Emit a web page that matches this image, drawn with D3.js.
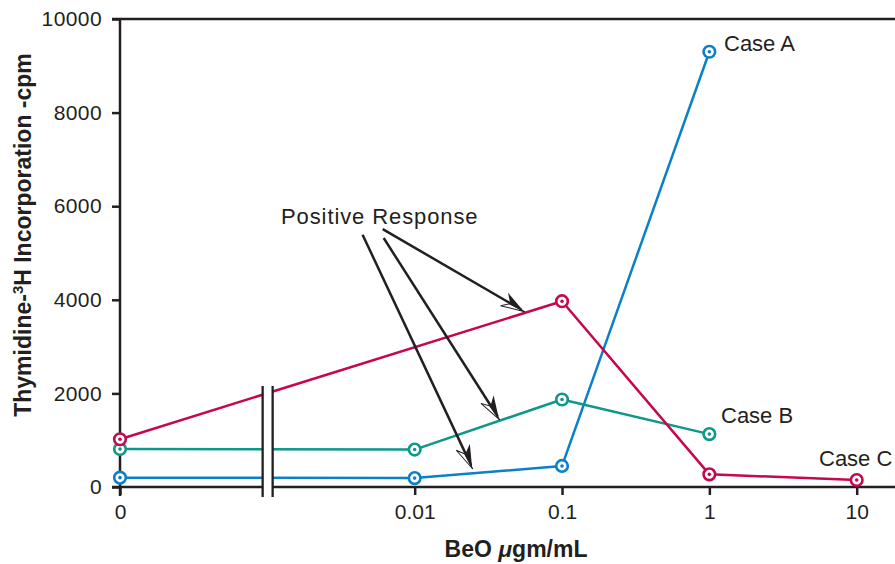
<!DOCTYPE html>
<html>
<head>
<meta charset="utf-8">
<script src="https://cdn.jsdelivr.net/npm/d3@7"></script>
<style>
  html, body { margin: 0; padding: 0; background: #fff; }
  svg { display: block; font-family: "Liberation Sans", Arial, Helvetica, sans-serif; }
</style>
</head>
<body>
<svg id="chart" width="895" height="564"></svg>
<script>
// ---- data ----
// dose positions (0 is drawn at the 1e-4 slot, to the left of the axis break)
const doseTicks = [0.0001, 0.01, 0.1, 1, 10];
const doseTickLabels = ["0", "0.01", "0.1", "1", "10"];
const yTicks = [0, 2000, 4000, 6000, 8000, 10000];

const caseADose = [0.0001, 0.01, 0.1, 1];
const caseAValues = [200, 190, 450, 9300];
const caseBDose = [0.0001, 0.01, 0.1, 1];
const caseBValues = [810, 800, 1870, 1130];
const caseCDose = [0.0001, 0.1, 1, 10];
const caseCValues = [1020, 3970, 270, 150];

const seriesNames = ["Case A", "Case B", "Case C"];
const seriesColors = ["#0a80c8", "#0f978a", "#c6064e"];

// annotation arrows (from -> to) in data units
const arrowFromDose = [0.00607, 0.00616, 0.00443];
const arrowFromValue = [5510, 5320, 5390];
const arrowToDose = [0.0559, 0.0378, 0.0248];
const arrowToValue = [3745, 1435, 385];

// ---- layout ----
const svg = d3.select("#chart");
const x = d3.scaleLog().domain([0.0001, 10]).range([120, 856.7]);
const y = d3.scaleLinear().domain([0, 10000]).range([487, 19]);
const ink = "#231f20";

const series = [
  { name: seriesNames[0], color: seriesColors[0], pts: caseADose.map((d, i) => [d, caseAValues[i]]) },
  { name: seriesNames[1], color: seriesColors[1], pts: caseBDose.map((d, i) => [d, caseBValues[i]]) },
  { name: seriesNames[2], color: seriesColors[2], pts: caseCDose.map((d, i) => [d, caseCValues[i]]) }
];

// top frame line
svg.append("line").attr("x1", 112).attr("x2", 895).attr("y1", y(10000)).attr("y2", y(10000))
  .attr("stroke", ink).attr("stroke-width", 2.5);

// y axis
const yAxis = d3.axisLeft(y).tickValues(yTicks).tickSize(8).tickPadding(10).tickFormat(d3.format("d"));
const gy = svg.append("g").attr("transform", "translate(120,0)").call(yAxis);
gy.select(".domain").attr("stroke", ink).attr("stroke-width", 2.5).attr("d", `M0,${y(10000)}V${y(0) + 9}`);
gy.selectAll(".tick line").attr("stroke", ink).attr("stroke-width", 2.5);
gy.selectAll(".tick text").attr("fill", ink).style("font-size", "21px")
  .style("font-family", "Liberation Sans, Arial, sans-serif").style("letter-spacing", "0.4px");

// x axis
const xAxis = d3.axisBottom(x).tickValues(doseTicks).tickSize(8).tickPadding(9)
  .tickFormat((d, i) => doseTickLabels[i]);
const gx = svg.append("g").attr("transform", `translate(0,${y(0)})`).call(xAxis);
gx.select(".domain").attr("stroke", ink).attr("stroke-width", 2.5).attr("d", `M112,0H895`);
gx.selectAll(".tick line").attr("stroke", ink).attr("stroke-width", 2.5);
gx.selectAll(".tick text").attr("fill", ink).style("font-size", "21px")
  .style("font-family", "Liberation Sans, Arial, sans-serif");

// series lines
const line = d3.line().x(d => x(d[0])).y(d => y(d[1]));
series.forEach(s => {
  svg.append("path").attr("d", line(s.pts)).attr("fill", "none")
    .attr("stroke", s.color).attr("stroke-width", 2.5).attr("stroke-linejoin", "round");
});

// axis break
const bx = (x(0.0001) + x(0.01)) / 2 + 0.3;
svg.append("rect").attr("x", bx - 4.5).attr("y", 380).attr("width", 9).attr("height", 120).attr("fill", "#fff");
[bx - 5, bx + 5].forEach(xx => {
  svg.append("line").attr("x1", xx).attr("x2", xx).attr("y1", 386).attr("y2", 497)
    .attr("stroke", ink).attr("stroke-width", 2.3);
});

// markers
series.forEach(s => {
  const g = svg.append("g");
  g.selectAll("circle.o").data(s.pts).join("circle").attr("class", "o")
    .attr("cx", d => x(d[0])).attr("cy", d => y(d[1])).attr("r", 5.8)
    .attr("fill", "#fff").attr("stroke", s.color).attr("stroke-width", 2.6);
  g.selectAll("circle.i").data(s.pts).join("circle").attr("class", "i")
    .attr("cx", d => x(d[0])).attr("cy", d => y(d[1])).attr("r", 1.8)
    .attr("fill", s.color);
});

// annotation arrows
arrowFromDose.forEach((fd, i) => {
  const x1 = x(fd), y1 = y(arrowFromValue[i]);
  const x2 = x(arrowToDose[i]), y2 = y(arrowToValue[i]);
  const ang = Math.atan2(y2 - y1, x2 - x1) * 180 / Math.PI;
  const len = Math.hypot(x2 - x1, y2 - y1);
  const g = svg.append("g").attr("transform", `translate(${x1},${y1}) rotate(${ang})`);
  g.append("line").attr("x1", 0).attr("y1", 0).attr("x2", len - 4).attr("y2", 0)
    .attr("stroke", ink).attr("stroke-width", 2.5);
  // open (white) barb
  g.append("path").attr("d", `M${len},0 L${len - 24},7 L${len - 17},0.8 Z`)
    .attr("fill", "#fff").attr("stroke", ink).attr("stroke-width", 1).attr("stroke-linejoin", "miter");
  // filled barb
  g.append("path").attr("d", `M${len},0.6 L${len - 24},-8 L${len - 17},0 L${len - 17},1.3 Z`)
    .attr("fill", ink);
});

// texts
svg.append("text").attr("x", 281).attr("y", 224).attr("fill", ink)
  .style("font-size", "22px").style("letter-spacing", "0.9px").text("Positive Response");

svg.append("text").attr("x", 724).attr("y", 51).attr("fill", ink).style("font-size", "22px").text(seriesNames[0]);
svg.append("text").attr("x", 721).attr("y", 423).attr("fill", ink).style("font-size", "22px").text(seriesNames[1]);
svg.append("text").attr("x", 819).attr("y", 466).attr("fill", ink).style("font-size", "22px").text(seriesNames[2]);

// axis titles
const xt = svg.append("text").attr("x", 516).attr("y", 557).attr("text-anchor", "middle")
  .attr("fill", ink).style("font-size", "23px").style("font-weight", "bold");
xt.append("tspan").text("BeO ");
xt.append("tspan").style("font-style", "italic").text("μ");
xt.append("tspan").text("gm/mL");

const yt = svg.append("text").attr("transform", "translate(31,235) rotate(-90)")
  .attr("text-anchor", "middle").attr("fill", ink)
  .style("font-size", "23px").style("font-weight", "bold");
yt.append("tspan").text("Thymidine-");
yt.append("tspan").attr("dy", -8).style("font-size", "15px").text("3");
yt.append("tspan").attr("dy", 8).text("H Incorporation -cpm");
</script>
</body>
</html>
